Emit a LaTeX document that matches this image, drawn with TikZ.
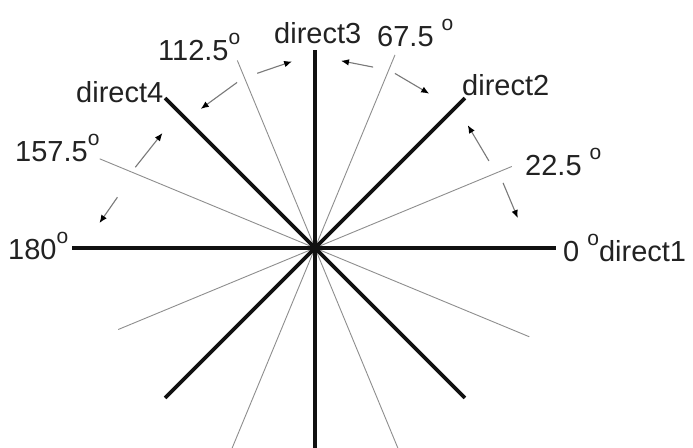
\documentclass[tikz,border=0pt]{standalone}
\usepackage{fontspec}
\setmainfont{Liberation Sans}
\usepackage{tikz}
\usetikzlibrary{arrows.meta,calc}
\definecolor{rayblack}{HTML}{111111}
\definecolor{raygray}{HTML}{8E8E8E}
\definecolor{labelgray}{HTML}{222222}
\newcommand{\dgr}{\raisebox{16pt}{\fontsize{21}{21}\selectfont o}}
\tikzset{
  mainray/.style={line width=3.6pt, draw=rayblack},
  subray/.style={line width=0.9pt, draw=raygray},
  turnarrow/.style={-{Latex[length=8pt,width=6.5pt,color=black]}, line width=1.1pt, draw=raygray!85!black},
  dirlabel/.style={font=\fontsize{29}{32}\selectfont, text=labelgray, inner sep=0pt, anchor=west}
}

\begin{document}
\begin{tikzpicture}[x=1pt, y=1pt]
        \fill[white] (0,0) rectangle (693,447);
        \useasboundingbox (0,0) rectangle (693,447);
        \clip (0,0) rectangle (693,447);

        \coordinate (O) at (315,199);

        \foreach \k/\ang/\len in {1/22.5/213, 2/67.5/209, 3/112.5/203, 4/157.5/233,
                                  5/202.5/213, 6/247.5/225, 7/292.5/225, 8/337.5/232} {
            \coordinate (sub\k) at ($(O)+(\ang:\len)$);
            \draw[subray] (O) -- (sub\k);
        }
        \foreach \k/\ang/\len in {1/0/241, 2/45/212, 3/90/198, 4/135/212,
                                  5/180/243, 6/225/212, 7/270/205, 8/315/212} {
            \coordinate (dir\k) at ($(O)+(\ang:\len)$);
            \draw[mainray] (O) -- (dir\k);
        }

        \foreach \k/\a/\ra/\b/\rb in {1/19.1/199/8.4/205, 2/26.6/194.5/38.8/196,
                                      3/65.4/192/53.5/192, 4/72.2/190/82.1/189,
                                      5/108.3/184/97/188, 6/115.2/183/129.4/180,
                                      7/155.8/197/143/191, 8/165.6/204/173.4/217} {
            \coordinate (from\k) at ($(O)+(\a:\ra)$);
            \coordinate (to\k) at ($(O)+(\b:\rb)$);
            \draw[turnarrow] (from\k) -- (to\k);
        }

        \node[dirlabel] (d3) at (274,414) {direct3};
        \node[dirlabel] (a67) at (377,414) {67.5 \dgr};
        \node[dirlabel] (a112) at (158,400) {112.5\dgr};
        \node[dirlabel] (d4) at (76,355) {direct4};
        \node[dirlabel] (d2) at (462,362) {direct2};
        \node[dirlabel] (a157) at (15,299) {157.5\dgr};
        \node[dirlabel] (a22) at (525,285) {22.5 \dgr};
        \node[dirlabel] (a180) at (8,201) {180\dgr};
        \node[dirlabel] (d1) at (563,199) {0 \dgr{}direct1};
    \end{tikzpicture}
\end{document}
